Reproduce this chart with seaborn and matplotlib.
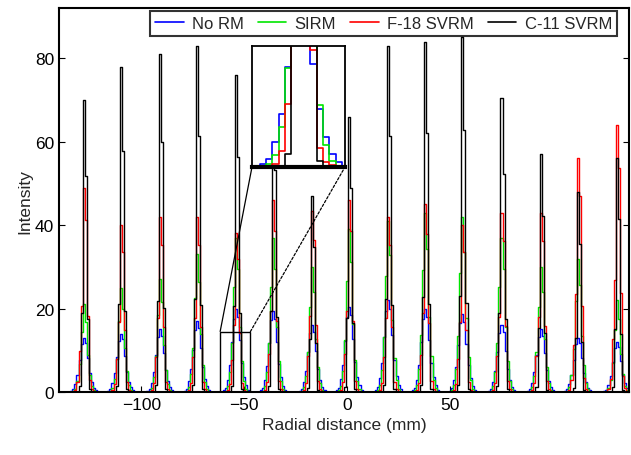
import numpy as np
import pandas as pd
from matplotlib import pyplot as plt
from matplotlib.patches import Rectangle, ConnectionPatch
import seaborn as sns

# peak centres (mm) read from the profile
peak_pos = [-128, -110, -91, -73, -54, -36, -17, 1, 20, 38, 56, 75, 94, 112, 131]

# peak heights per method
h_norm = [13, 14, 15, 17, 20, 19.5, 16, 20.5, 22, 20, 18.7, 16, 15, 13, 12]
h_sirm = [21, 25, 27, 33, 37, 37, 30, 39, 41, 43, 42, 37, 30, 32, 22]
h_f18 = [49, 40, 42, 42, 38, 46, 43.5, 46, 42, 45, 40, 43, 43, 56, 64]
h_c11 = [70, 78, 81, 83, 76, 72, 47, 66, 83, 84, 85, 70.5, 57, 48, 56]

# relative peak shape, one sample per mm from -6 to +6 mm
offsets = [-6, -5, -4, -3, -2, -1, 0, 1, 2, 3, 4, 5, 6]
k_norm = [0.02, 0.05, 0.15, 0.32, 0.6, 0.88, 1.0, 0.9, 0.62, 0.35, 0.18, 0.08, 0.03]
k_sirm = [0.0, 0.01, 0.04, 0.13, 0.32, 0.68, 1.0, 0.8, 0.42, 0.2, 0.07, 0.02, 0.0]
k_f18 = [0.0, 0.0, 0.01, 0.05, 0.2, 0.42, 1.0, 0.84, 0.37, 0.06, 0.015, 0.005, 0.0]
k_c11 = [0.0, 0.0, 0.0, 0.0, 0.02, 0.27, 1.0, 0.74, 0.25, 0.01, 0.0, 0.0, 0.0]

labels = ['No RM', 'SIRM', 'F-18 SVRM', 'C-11 SVRM']
colors = ['#0000ff', '#00e600', '#ff0000', '#000000']


def build_profile(x, heights, kernel):
    y = np.zeros_like(x)
    for c, h in zip(peak_pos, heights):
        for o, k in zip(offsets, kernel):
            i = int(round(c + o - x[0]))
            if 0 <= i < len(y):
                y[i] += h * k
    return y


def main():
    x = np.arange(-140, 138, 1.0)
    frames = []
    for lab, h, k in zip(labels, [h_norm, h_sirm, h_f18, h_c11], [k_norm, k_sirm, k_f18, k_c11]):
        frames.append(pd.DataFrame({'x': x, 'y': build_profile(x, h, k), 'method': lab}))
    df = pd.concat(frames, ignore_index=True)

    sns.set_style('white')
    plt.rcParams['font.family'] = ['Liberation Sans', 'DejaVu Sans']

    fig = plt.figure(figsize=(6.31, 4.56), dpi=100)
    ax = fig.add_axes([0.0935, 0.138, 0.9035, 0.842])
    sns.lineplot(data=df, x='x', y='y', hue='method', hue_order=labels,
                 palette=colors, estimator=None, sort=False, lw=1.0,
                 drawstyle='steps-mid', ax=ax)
    ax.set_xlim(-140, 137)
    ax.set_ylim(0, 92)
    ax.set_xticks([-100, -50, 0, 50])
    ax.set_yticks([0, 20, 40, 60, 80])
    ax.tick_params(direction='in', length=4, labelsize=12.5, right=True, bottom=True,
                   left=True, labelright=False, colors='black')
    for s in ax.spines.values():
        s.set_color('black')
        s.set_linewidth(1.5)
    ax.set_xlabel('Radial distance (mm)', fontsize=12.5)
    ax.set_ylabel('Intensity', fontsize=12.5, labelpad=2)

    leg = ax.legend(loc='upper right', bbox_to_anchor=(617 / 631, 1 - 12 / 456),
                    bbox_transform=fig.transFigure, ncol=4, fontsize=12,
                    frameon=True, fancybox=False, edgecolor='black', borderpad=0.3,
                    handlelength=1.7, handletextpad=0.5, columnspacing=0.85,
                    borderaxespad=0)
    leg.get_frame().set_linewidth(1.5)
    for line in leg.get_lines():
        line.set_linewidth(1.2)

    # zoom box around the peak at -54 mm
    x0, x1, y0, y1 = -61.7, -47, 0, 14.5
    ax.add_patch(Rectangle((x0, y0), x1 - x0, y1 - y0, fill=False, ec='black', lw=1.0, zorder=5))
    axin = fig.add_axes([252 / 631, 1 - 168 / 456, 93 / 631, 121 / 456])
    sub = df[(df['x'] >= x0 - 2) & (df['x'] <= x1 + 2)]
    sns.lineplot(data=sub, x='x', y='y', hue='method', hue_order=labels,
                 palette=colors, estimator=None, sort=False, lw=1.2,
                 drawstyle='steps-mid', ax=axin, legend=False)
    axin.set_xlim(x0, x1)
    axin.set_ylim(y0, y1)
    axin.set_xticks([])
    axin.set_yticks([])
    axin.set_xlabel('')
    axin.set_ylabel('')
    for s in axin.spines.values():
        s.set_color('black')
        s.set_linewidth(1.3)
    axin.spines['bottom'].set_linewidth(3)

    c1 = ConnectionPatch(xyA=(x0, y1), coordsA=ax.transData, xyB=(x0, y0), coordsB=axin.transData,
                         color='black', lw=0.9)
    c2 = ConnectionPatch(xyA=(x1, y1), coordsA=ax.transData, xyB=(x1, y0), coordsB=axin.transData,
                         color='black', lw=0.9, ls=(0, (2, 1.5)))
    fig.add_artist(c1)
    fig.add_artist(c2)

    fig.savefig('out.png', dpi=100)


if __name__ == "__main__":
    main()
